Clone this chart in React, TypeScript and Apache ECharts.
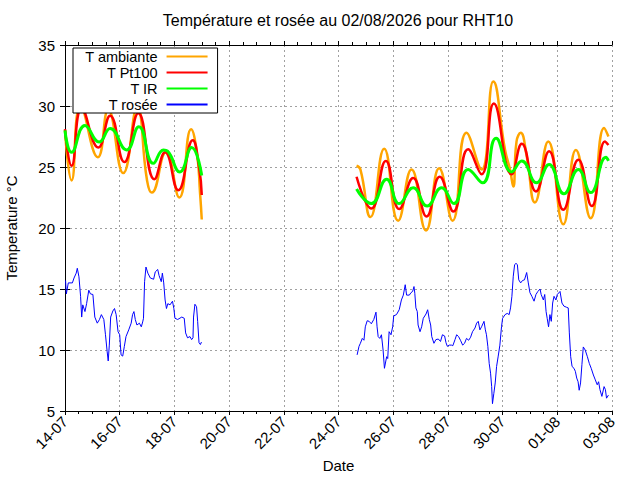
import { useEffect, useRef } from "react";
import * as echarts from "echarts";

// jours écoulés depuis le 14-07-2026 00:00
const xTickLabels = ["14-07", "16-07", "18-07", "20-07", "22-07", "24-07", "26-07", "28-07", "30-07", "01-08", "03-08"];

const ambDays = [0, 0.24, 0.57, 1.2, 1.58, 2.13, 2.64, 3.0, 3.17, 3.69, 4.18, 4.61, 4.82, 4.94, 5.0,
    7.5,
    10.66, 10.8, 11.17, 11.67, 12.18, 12.67, 13.2, 13.68, 14.17, 14.68, 15.23, 15.66, 16.09, 16.27, 16.39, 16.51, 16.66, 16.88, 17.18, 17.67, 18.22, 18.68, 19.22, 19.71, 19.87];
const ambTemp = [28.0, 23.9, 30.0, 25.8, 29.7, 24.5, 29.9, 23.9, 22.9, 26.2, 22.5, 28.1, 26.2, 22.8, 20.7,
    null,
    25.1, 24.8, 20.9, 26.5, 20.6, 24.8, 19.8, 24.9, 20.6, 27.8, 24.8, 32.0, 26.4, 24.8, 23.4, 27.1, 27.8, 25.9, 22.1, 27.1, 20.3, 26.4, 20.8, 28.2, 27.5];

const ptDays = [0, 0.24, 0.61, 1.22, 1.65, 2.17, 2.68, 3.27, 3.66, 4.14, 4.67, 4.9, 5.0,
    7.5,
    10.66, 11.2, 11.73, 12.22, 12.73, 13.22, 13.7, 14.2, 14.74, 15.23, 15.68, 16.33, 16.7, 17.22, 17.7, 18.22, 18.77, 19.26, 19.74, 19.87];
const ptTemp = [28.1, 25.1, 29.8, 26.6, 29.2, 25.4, 29.4, 24.0, 26.2, 23.1, 27.2, 25.0, 22.7,
    null,
    24.2, 21.6, 25.5, 21.55, 24.1, 20.95, 24.2, 21.35, 26.45, 24.4, 30.2, 24.4, 26.9, 23.0, 26.3, 21.5, 25.6, 21.8, 27.1, 26.8];

const irDays = [0, 0.24, 0.73, 1.25, 1.65, 2.25, 2.7, 3.23, 3.6, 3.75, 4.2, 4.63, 5.0,
    7.5,
    10.66, 11.2, 11.76, 12.22, 12.73, 13.24, 13.77, 14.22, 14.74, 15.27, 15.76, 16.33, 16.7, 17.24, 17.7, 18.24, 18.77, 19.22, 19.78, 19.87];
const irTemp = [28.0, 26.2, 28.4, 27.05, 28.15, 26.4, 28.3, 25.3, 26.4, 26.3, 24.6, 26.6, 24.3,
    null,
    23.2, 22.0, 24.0, 22.0, 23.3, 21.8, 23.3, 22.0, 24.8, 23.7, 27.35, 24.6, 25.5, 23.7, 25.2, 22.8, 24.8, 22.9, 25.8, 25.5];

const dewDays = [0.02, 0.05, 0.12, 0.27, 0.33, 0.41, 0.45, 0.51, 0.57, 0.61, 0.65, 0.73, 0.79, 0.87, 0.93, 1.02,
    1.09, 1.18, 1.26, 1.33, 1.42, 1.48, 1.54, 1.58, 1.62, 1.67, 1.75, 1.81, 1.87, 1.94, 2.0, 2.05, 2.11, 2.17,
    2.23, 2.33, 2.42, 2.47, 2.52, 2.57, 2.63, 2.72, 2.79, 2.84, 2.87, 2.91, 2.96, 3.03, 3.12, 3.24, 3.3, 3.39,
    3.44, 3.52, 3.56, 3.61, 3.66, 3.71, 3.76, 3.84, 3.93, 3.98, 4.02, 4.12, 4.27, 4.36, 4.41, 4.48, 4.57, 4.63,
    4.68, 4.7, 4.75, 4.81, 4.85, 4.9, 4.95, 4.99,
    7.5,
    10.68, 10.75, 10.8, 10.87, 10.93, 10.98, 11.05, 11.12, 11.2, 11.29, 11.37, 11.41, 11.45, 11.51, 11.57, 11.63,
    11.68, 11.76, 11.8, 11.85, 11.92, 11.98, 12.02, 12.12, 12.22, 12.3, 12.37, 12.44, 12.49, 12.59, 12.65, 12.71,
    12.76, 12.79, 12.83, 12.88, 12.91, 12.98, 13.04, 13.1, 13.2, 13.26, 13.32, 13.37, 13.41, 13.49, 13.56, 13.65,
    13.73, 13.8, 13.88, 13.93, 13.98, 14.05, 14.13, 14.18, 14.26, 14.32, 14.39, 14.46, 14.54, 14.61, 14.68, 14.76,
    14.83, 14.9, 14.99, 15.05, 15.11, 15.17, 15.23, 15.32, 15.37, 15.41, 15.46, 15.51, 15.56, 15.6, 15.63, 15.68,
    15.73, 15.78, 15.84, 15.9, 15.96, 16.0, 16.09, 16.17, 16.24, 16.29, 16.34, 16.39, 16.44, 16.49, 16.54, 16.59,
    16.66, 16.73, 16.8, 16.88, 16.94, 17.0, 17.07, 17.15, 17.22, 17.29, 17.37, 17.41, 17.49, 17.54, 17.59, 17.63,
    17.68, 17.73, 17.78, 17.83, 17.88, 17.95, 18.0, 18.1, 18.17, 18.24, 18.34, 18.4, 18.44, 18.49, 18.54, 18.61,
    18.66, 18.71, 18.76, 18.8, 18.85, 18.9, 18.95, 19.02, 19.1, 19.17, 19.24, 19.32, 19.39, 19.46, 19.51, 19.56,
    19.63, 19.71, 19.76, 19.8, 19.87];
const dewTemp = [15.7, 14.6, 15.5, 15.5, 15.9, 16.3, 16.7, 16.0, 14.4, 12.7, 13.7, 13.15, 13.8, 14.9, 14.6, 14.55,
    12.7, 12.2, 12.5, 12.9, 12.5, 11.25, 9.9, 9.1, 10.4, 12.7, 13.2, 13.4, 12.9, 11.5, 11.25, 9.6, 9.5, 10.3,
    11.1, 11.65, 12.2, 12.9, 13.15, 12.5, 12.05, 12.2, 11.9, 12.3, 12.6, 15.6, 16.8, 16.3, 15.9, 15.8, 16.4, 16.6,
    16.1, 15.6, 16.3, 15.5, 14.1, 13.4, 13.8, 13.7, 14.0, 13.4, 12.6, 12.5, 12.7, 12.6, 11.4, 11.0, 11.1, 10.85,
    11.0, 12.7, 13.75, 13.55, 12.35, 10.6, 10.45, 10.65,
    null,
    9.6, 10.3, 10.55, 10.95, 10.8, 11.9, 12.4, 12.35, 12.15, 12.5, 13.1, 11.9, 11.1, 10.95, 11.25, 10.0,
    8.5, 9.45, 9.3, 11.5, 11.25, 11.9, 12.8, 12.9, 13.3, 14.1, 14.5, 15.35, 14.5, 14.5, 14.7, 14.8,
    15.2, 14.65, 13.45, 13.15, 12.05, 11.5, 11.9, 12.6, 12.95, 13.3, 12.5, 12.05, 11.1, 10.55, 10.85, 10.9,
    10.7, 11.25, 11.15, 10.6, 10.3, 10.4, 10.4, 10.35, 10.85, 11.25, 11.1, 10.8, 10.4, 10.55, 10.95, 10.8,
    11.05, 11.5, 11.8, 12.2, 12.35, 11.65, 11.9, 12.35, 11.65, 11.25, 10.3, 8.9, 8.1, 7.0, 5.6, 6.45,
    7.3, 8.65, 9.5, 10.4, 11.9, 12.6, 12.9, 13.0, 12.9, 13.45, 14.4, 16.05, 17.0, 17.1, 17.0, 15.75,
    15.5, 15.7, 15.75, 16.35, 15.5, 14.7, 14.4, 14.0, 14.55, 14.8, 15.0, 14.55, 14.1, 14.55, 13.15, 12.6,
    11.9, 12.9, 12.35, 13.85, 14.4, 14.1, 14.55, 14.8, 13.85, 13.6, 13.5, 13.45, 11.4, 9.45, 8.65, 8.5,
    8.25, 7.7, 7.4, 6.7, 7.3, 8.8, 10.25, 10.0, 9.45, 8.9, 8.5, 7.95, 7.55, 7.15, 7.4, 6.75,
    6.2, 7.0, 6.75, 6.05, 6.3];

const FONT = "'Liberation Sans', Arial, sans-serif";

const toData = (days: number[], vals: (number | null)[]) =>
    days.map((d, i) => [d, vals[i] === null ? "-" : vals[i]]);

export default function App() {
    const chartRef = useRef<HTMLDivElement | null>(null);

    useEffect(() => {
        if (!chartRef.current) return;
        const chart = echarts.init(chartRef.current, undefined, { renderer: "svg" });

        const dayLabel = (v: number) => xTickLabels[Math.round(v / 2)] ?? "";
        const axisBlack = { show: true, lineStyle: { color: "#000", width: 1 } };
        const grid = { show: true, lineStyle: { color: "#a0a0a0", width: 1, type: [2, 3] } };

        const option: any = {
            animation: false,
            backgroundColor: "#fff",
            textStyle: { fontFamily: FONT },
            title: {
                text: "Température et rosée au 02/08/2026 pour RHT10",
                left: 338,
                top: 12,
                padding: 0,
                textAlign: "center",
                textStyle: { fontSize: 16, fontWeight: "normal", color: "#000", fontFamily: FONT },
            },
            legend: {
                orient: "vertical",
                align: "right",
                left: 73,
                top: 48,
                itemWidth: 41,
                itemHeight: 14,
                itemGap: 1,
                padding: [1, 9, 1, 12],
                backgroundColor: "#fff",
                borderColor: "#000",
                borderWidth: 1,
                borderRadius: 0,
                selectedMode: false,
                itemStyle: { opacity: 0, borderWidth: 0 },
                formatter: (n: string) => n + "\u00a0",
                textStyle: { fontSize: 14.5, color: "#000", fontFamily: FONT, lineHeight: 14 },
                data: ["T ambiante", "T Pt100", "T IR", "T rosée"],
            },
            grid: { left: 65, right: 28, top: 45, bottom: 69, containLabel: false, outerBoundsMode: "none" },
            xAxis: [
                {
                    type: "value",
                    position: "bottom",
                    min: 0,
                    max: 20,
                    interval: 2,
                    name: "Date",
                    nameLocation: "middle",
                    nameGap: 46,
                    nameTextStyle: { fontSize: 15, color: "#000", fontFamily: FONT },
                    axisLine: axisBlack,
                    axisTick: { show: true, inside: false, length: 4, lineStyle: { color: "#000" } },
                    minorTick: { show: true, splitNumber: 4, length: 3, lineStyle: { color: "#000" } },
                    axisLabel: { rotate: 45, margin: 8, fontSize: 15, color: "#000", fontFamily: FONT, formatter: dayLabel },
                    splitLine: grid,
                },
                {
                    type: "value",
                    position: "top",
                    min: 0,
                    max: 20,
                    interval: 2,
                    axisLine: axisBlack,
                    axisTick: { show: true, inside: false, length: 4, lineStyle: { color: "#000" } },
                    minorTick: { show: true, splitNumber: 4, length: 3, lineStyle: { color: "#000" } },
                    axisLabel: { show: false },
                    splitLine: { show: false },
                },
            ],
            yAxis: [
                {
                    type: "value",
                    position: "left",
                    min: 5,
                    max: 35,
                    interval: 5,
                    name: "Temperature °C",
                    nameLocation: "middle",
                    nameRotate: 90,
                    nameGap: 46,
                    nameTextStyle: { fontSize: 15, color: "#000", fontFamily: FONT },
                    axisLine: axisBlack,
                    axisTick: { show: true, inside: true, length: 5, lineStyle: { color: "#000" } },
                    axisLabel: { margin: 10, fontSize: 15, color: "#000", fontFamily: FONT },
                    splitLine: grid,
                },
                {
                    type: "value",
                    position: "right",
                    min: 5,
                    max: 35,
                    interval: 5,
                    axisLine: axisBlack,
                    axisTick: { show: true, inside: true, length: 5, lineStyle: { color: "#000" } },
                    axisLabel: { show: false },
                    splitLine: { show: false },
                },
            ],
            series: [
                {
                    name: "T ambiante",
                    type: "line",
                    data: toData(ambDays, ambTemp),
                    symbol: "none",
                    smooth: 0.5,
                    itemStyle: { color: "#ffa500" },
                    lineStyle: { color: "#ffa500", width: 2.5 },
                },
                {
                    name: "T Pt100",
                    type: "line",
                    data: toData(ptDays, ptTemp),
                    symbol: "none",
                    smooth: 0.5,
                    itemStyle: { color: "#ff0000" },
                    lineStyle: { color: "#ff0000", width: 2.5 },
                },
                {
                    name: "T IR",
                    type: "line",
                    data: toData(irDays, irTemp),
                    symbol: "none",
                    smooth: 0.5,
                    itemStyle: { color: "#00ff00" },
                    lineStyle: { color: "#00ff00", width: 3 },
                },
                {
                    name: "T rosée",
                    type: "line",
                    data: toData(dewDays, dewTemp),
                    symbol: "none",
                    itemStyle: { color: "#0000ff" },
                    lineStyle: { color: "#0000ff", width: 1 },
                },
            ],
        };

        chart.setOption(option);
        return () => chart.dispose();
    }, []);

    return (
        <div
            ref={chartRef}
            style={{ position: "fixed", left: 0, top: 0, width: 640, height: 480 }}
        />
    );
}
